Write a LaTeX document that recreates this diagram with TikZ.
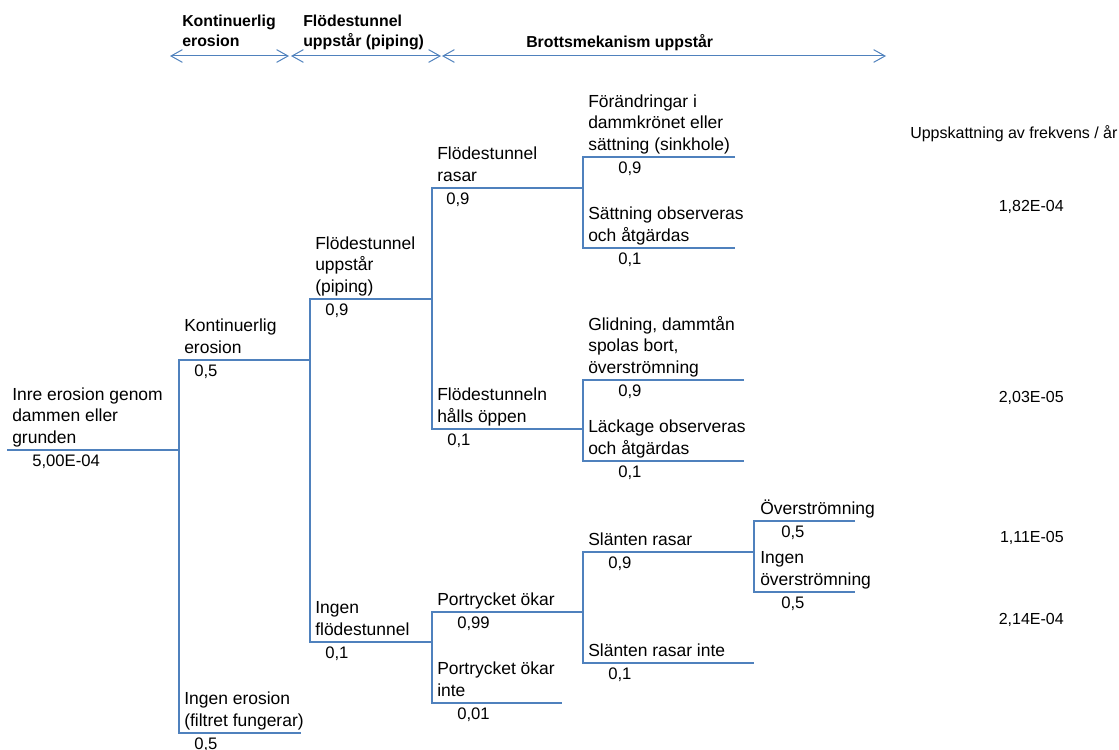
\documentclass[tikz,border=0pt]{standalone}
\usepackage{fontspec}
\setmainfont{Liberation Sans}
\usepackage{tikz}
\usetikzlibrary{arrows.meta}
\usepackage{xcolor}
\definecolor{treeblue}{RGB}{79,129,189}
\newcommand{\lblfont}{\fontsize{13.1}{16.1}\selectfont}
\newcommand{\probfont}{\fontsize{12.5}{15}\selectfont}
\newcommand{\hdrfont}{\fontsize{11.9}{15}\selectfont\bfseries}
\newcommand{\freqfont}{\fontsize{12}{14.4}\selectfont}
\tikzset{
  % branch line of the event tree
  branch/.style={draw=treeblue, line width=1.5pt},
  % event text above a branch
  evlabel/.style={anchor=south west, inner sep=0pt, align=left, font=\lblfont},
  % probability under a branch
  problabel/.style={anchor=base west, inner sep=0pt, font=\probfont},
  % phase header
  phaselabel/.style={anchor=south west, inner sep=0pt, align=left, font=\hdrfont},
  % span arrow of a phase
  spanarrow/.style={{Straight Barb[length=8.5pt,width=9.5pt]}-{Straight Barb[length=8.5pt,width=9.5pt]},
                    draw=treeblue, line width=0.75pt},
  % frequency estimate
  freqlabel/.style={anchor=base east, inner sep=0pt, font=\freqfont},
}

\begin{document}
\begin{tikzpicture}[x=0.75pt, y=-0.75pt]
  \useasboundingbox (0,0) rectangle (1119,749);
  % phases
  \coordinate (sp0) at (170,56);
  \coordinate (sp1a) at (289,56);
  \coordinate (sp1b) at (291,56);
  \coordinate (sp2a) at (441,56);
  \coordinate (sp2b) at (442,56);
  \coordinate (sp3) at (886,56);
  \draw[spanarrow] (sp0) -- (sp1a);
  \draw[spanarrow] (sp1b) -- (sp2a);
  \draw[spanarrow] (sp2b) -- (sp3);
  \node[phaselabel] (ph1) at (182,53) {Kontinuerlig\\erosion\strut};
  \node[phaselabel] (ph2) at (303,53) {Flödestunnel\\uppstår (piping)\strut};
  \node[phaselabel, anchor=base west] (ph3) at (526,48) {Brottsmekanism uppstår};
  % branch ends
  \coordinate (root-a) at (7,450);      \coordinate (root-b) at (179,450);
  \coordinate (kont-a) at (179,360);    \coordinate (kont-b) at (310,360);
  \coordinate (noero-a) at (179,733);   \coordinate (noero-b) at (301,733);
  \coordinate (pipe-a) at (310,299);    \coordinate (pipe-b) at (432,299);
  \coordinate (nopipe-a) at (310,642);  \coordinate (nopipe-b) at (432,642);
  \coordinate (ras-a) at (432,188);     \coordinate (ras-b) at (583,188);
  \coordinate (open-a) at (432,429);    \coordinate (open-b) at (583,429);
  \coordinate (sink-a) at (583,157);    \coordinate (sink-b) at (735,157);
  \coordinate (obs-a) at (583,248);     \coordinate (obs-b) at (735,248);
  \coordinate (glid-a) at (583,380);    \coordinate (glid-b) at (744,380);
  \coordinate (lack-a) at (583,461);    \coordinate (lack-b) at (744,461);
  \coordinate (port-a) at (432,612);    \coordinate (port-b) at (583,612);
  \coordinate (noport-a) at (432,703);  \coordinate (noport-b) at (562,703);
  \coordinate (slope-a) at (583,552);   \coordinate (slope-b) at (754,552);
  \coordinate (noslope-a) at (583,663); \coordinate (noslope-b) at (754,663);
  \coordinate (flood-a) at (754,521);   \coordinate (flood-b) at (855,521);
  \coordinate (noflood-a) at (754,592); \coordinate (noflood-b) at (855,592);
  % tree
  \draw[branch] (root-a) -- (root-b);
  \draw[branch] (kont-b) -- (kont-a) -- (noero-a) -- (noero-b);
  \draw[branch] (pipe-b) -- (pipe-a) -- (nopipe-a) -- (nopipe-b);
  \draw[branch] (ras-b) -- (ras-a) -- (open-a) -- (open-b);
  \draw[branch] (sink-b) -- (sink-a) -- (obs-a) -- (obs-b);
  \draw[branch] (glid-b) -- (glid-a) -- (lack-a) -- (lack-b);
  \draw[branch] (port-b) -- (port-a) -- (noport-a) -- (noport-b);
  \draw[branch] (slope-b) -- (slope-a) -- (noslope-a) -- (noslope-b);
  \draw[branch] (flood-b) -- (flood-a) -- (noflood-a) -- (noflood-b);
  % events
  \node[evlabel] (root) at (12,450) {Inre erosion genom\\dammen eller\\grunden\strut};
  \node[evlabel] (kont) at (184,360) {Kontinuerlig\\erosion\strut};
  \node[evlabel] (noero) at (184,733) {Ingen erosion\\(filtret fungerar)\strut};
  \node[evlabel] (pipe) at (315,299) {Flödestunnel\\uppstår\\(piping)\strut};
  \node[evlabel] (nopipe) at (315,642) {Ingen\\flödestunnel\strut};
  \node[evlabel] (ras) at (437,188) {Flödestunnel\\rasar\strut};
  \node[evlabel] (open) at (437,429) {Flödestunneln\\hålls öppen\strut};
  \node[evlabel] (sink) at (588,157) {Förändringar i\\dammkrönet eller\\sättning (sinkhole)\strut};
  \node[evlabel] (obs) at (588,248) {Sättning observeras\\och åtgärdas\strut};
  \node[evlabel] (glid) at (588,380) {Glidning, dammtån\\spolas bort,\\överströmning\strut};
  \node[evlabel] (lack) at (588,461) {Läckage observeras\\och åtgärdas\strut};
  \node[evlabel] (port) at (437,612) {Portrycket ökar\strut};
  \node[evlabel] (noport) at (437,703) {Portrycket ökar\\inte\strut};
  \node[evlabel] (slope) at (588,552) {Slänten rasar\strut};
  \node[evlabel] (noslope) at (588,663) {Slänten rasar inte\strut};
  \node[evlabel] (flood) at (760,521) {Överströmning\strut};
  \node[evlabel] (noflood) at (760,592) {Ingen\\överströmning\strut};
  % probabilities
  \node[problabel] (root-p) at (32,466.5) {5,00E-04};
  \node[problabel] (kont-p) at (194,376.5) {0,5};
  \node[problabel] (noero-p) at (194,749.5) {0,5};
  \node[problabel] (pipe-p) at (325,315.5) {0,9};
  \node[problabel] (nopipe-p) at (325,658.5) {0,1};
  \node[problabel] (ras-p) at (446,204.5) {0,9};
  \node[problabel] (open-p) at (447,445.5) {0,1};
  \node[problabel] (sink-p) at (618,173.5) {0,9};
  \node[problabel] (obs-p) at (618,264.5) {0,1};
  \node[problabel] (glid-p) at (618,396.5) {0,9};
  \node[problabel] (lack-p) at (618,477.5) {0,1};
  \node[problabel] (port-p) at (457,628.5) {0,99};
  \node[problabel] (noport-p) at (457,719.5) {0,01};
  \node[problabel] (slope-p) at (608,568.5) {0,9};
  \node[problabel] (noslope-p) at (608,679.5) {0,1};
  \node[problabel] (flood-p) at (781,537.5) {0,5};
  \node[problabel] (noflood-p) at (781,608.5) {0,5};
  % frequency per year
  \node[anchor=base west, inner sep=0pt, font=\freqfont] (freqhead) at (910,138) {Uppskattning av frekvens / år};
  \node[freqlabel] (freq1) at (1064,211) {1,82E-04};
  \node[freqlabel] (freq2) at (1064,402) {2,03E-05};
  \node[freqlabel] (freq3) at (1064,542.5) {1,11E-05};
  \node[freqlabel] (freq4) at (1064,624) {2,14E-04};
\end{tikzpicture}
\end{document}
